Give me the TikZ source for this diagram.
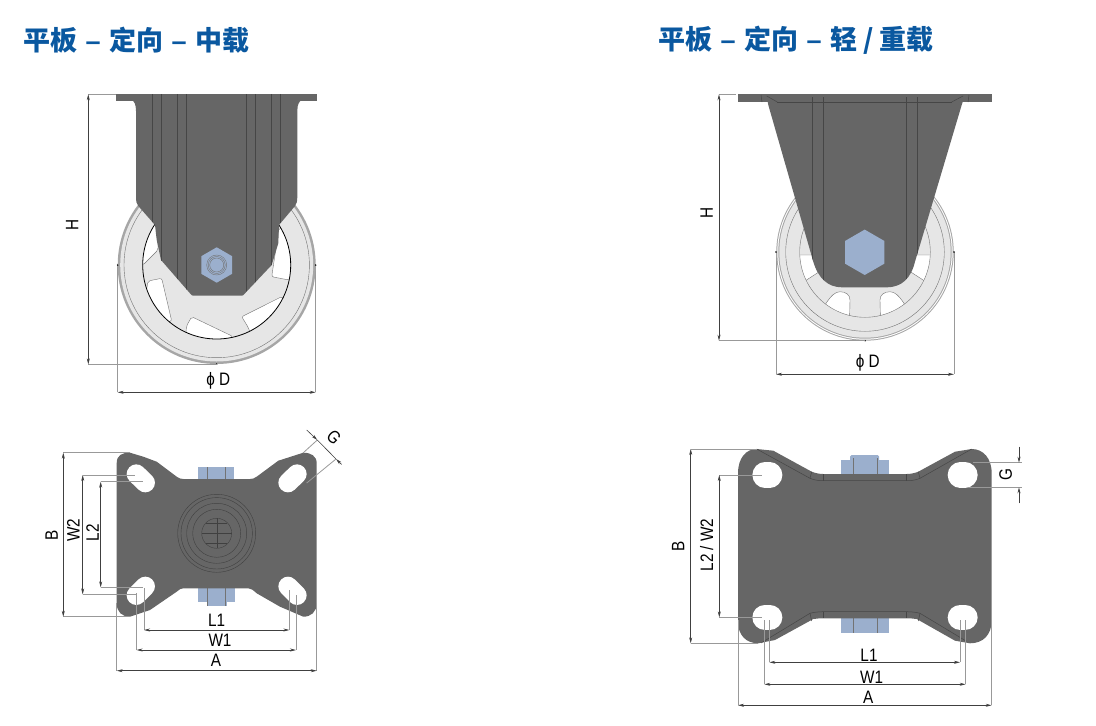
\documentclass[tikz,border=0pt]{standalone}
\usepackage{fontspec}
\setmainfont{Liberation Sans}
\newfontfamily\cjk{Noto Sans CJK SC}
\newfontfamily\dimfont[FakeStretch=0.85]{Liberation Sans}
\usetikzlibrary{arrows.meta,shapes.geometric}
\definecolor{titleblue}{RGB}{10,88,160}
\definecolor{steel}{RGB}{102,102,102}
\definecolor{steelline}{RGB}{70,70,70}
\definecolor{nutblue}{RGB}{155,175,205}
\definecolor{tyre}{RGB}{230,230,230}
\newcommand{\titlesep}{\hspace{8.5pt}{\rmfamily\bfseries –}\hspace{8.5pt}}
\tikzset{
	titletext/.style={anchor=west,inner sep=0,text=titleblue,font=\cjk\bfseries\fontsize{27}{27}\selectfont},
	dimtext/.style={inner sep=0,font=\dimfont\fontsize{18}{18}\selectfont},
	dimline/.style={line width=.6pt,black!75,{Stealth[length=6pt,width=3pt]}-{Stealth[length=6pt,width=3pt]}},
	witness/.style={line width=.8pt,black!40},
	edge/.style={line width=.5pt,steelline},
	thinline/.style={line width=.4pt,draw=black!55},
	nut/.style={regular polygon,regular polygon sides=6,shape border rotate=30,inner sep=0,fill=nutblue}
}
\begin{document}
\begin{tikzpicture}[x=1pt,y=-1pt]
	\useasboundingbox (0,0) rectangle (1096,726);
	\node[titletext] (titlemedium) at (23,40) {平板\titlesep 定向\titlesep 中载};
	\node[titletext] (titlelight) at (658,40) {平板\titlesep 定向\titlesep 轻 / 重载};

	\draw[witness] (117.7,265) -- (117.7,392.3);
	\draw[witness] (315.7,265) -- (315.7,392.3);
	\fill[black!35] (216.7,265) circle[radius=99];
	\fill[tyre] (216.7,265) circle[radius=96.5];
	\draw[thinline] (216.7,265) circle[radius=92.7];
	\begin{scope}
		\clip (216.7,265) circle[radius=74];
		\foreach \win in {
			{(148,281) -- (161.7,278.3) -- (171.7,321) -- (140,330)},
			{(191.7,316.7) -- (233,336.5) -- (230,350) -- (185,345) -- (186.5,326)},
			{(241.7,316.7) -- (282,296.5) -- (295,310) -- (255,345) -- (248,327)},
			{(279,228) -- (271.7,276.7) -- (289,280) -- (300,270) -- (300,225)},
			{(143,265) -- (158,250) -- (158,222) -- (130,222) -- (130,265)}} {
			\draw[rounded corners=2,thinline,fill=white] \win -- cycle;
		}
	\end{scope}
	\draw[line width=.8pt] (216.7,265) circle[radius=74];
	\foreach \tx/\ty in {117.7/265,315.7/265,216.7/364} {
		\fill (\tx,\ty) circle[radius=.8];
	}

	\begin{scope}
		\path[fill=steel,save path=\bodyA] (131.7,100) .. controls (134,101) and (136,104) .. (136,111) -- (136,196.7) .. controls (136,201) and (136.5,204) .. (138.3,206) -- (155,225) -- (156.7,240) -- (161,260) -- (190,293.3) .. controls (191,294.8) and (192,295.7) .. (193.3,295.7) -- (241.7,295.7) .. controls (243,295.7) and (244,294.8) .. (245,293.3) -- (271.7,265) -- (278.3,243.3) -- (279,225) -- (295,206) .. controls (296.8,204) and (297.3,201) .. (297.3,196.7) -- (297.3,111) .. controls (297.3,104) and (299.5,101) .. (301.7,100) -- cycle;
		\clip[use path=\bodyA];
		\foreach \x in {152.3,161.7,177.7,186,246.7,255,271.7,280.7} {
			\draw[edge] (\x,94.3) -- (\x,300);
		}
	\end{scope}
	\fill[steel] (116,94.3) rectangle (317.3,100.7);
	\foreach \x in {152.3,161.7,177.7,186,246.7,255,271.7,280.7} {
		\draw[edge] (\x,94.3) -- (\x,100.7);
	}
	\node[nut,minimum size=35.4pt] (boltA) at (216.7,265) {};
	\foreach \r in {7,8.5,10} {
		\draw[thinline] (boltA.center) circle[radius=\r];
	}

	\draw[witness] (88.3,94.3) -- (116,94.3);
	\draw[witness] (88.3,364.3) -- (216.7,364.3);
	\draw[dimline] (88.3,94.3) -- (88.3,364.3);
	\draw[dimline] (117.7,392.3) -- (315.7,392.3);
	\node[dimtext,rotate=90] (heightA) at (72.3,225) {H};
	\node[dimtext] (diamA) at (218.3,381) {ϕ D};

	\fill[nutblue] (198.3,467.3) rectangle (234,485);
	\fill[nutblue] (197.7,585) rectangle (235,602.3);
	\fill[nutblue] (206.7,600) rectangle (226.7,606);
	\foreach \x in {207.3,225} {
		\draw[thinline] (\x,467.3) -- (\x,480);
		\draw[thinline] (\x,588) -- (\x,606);
	}
	\fill[steel] (116.7,463.3) .. controls (116.7,455) and (122,452.7) .. (130,452.7) -- (143.3,456.7) -- (156.7,461.7) -- (176.7,476.7) .. controls (179,478.4) and (181,479) .. (183.3,479) -- (250,479) .. controls (252.3,479) and (254.4,478.4) .. (256.7,476.7) -- (278.3,460.7) -- (303.3,452.7) .. controls (311,452.7) and (316.7,456) .. (316.7,463.3) -- (316.7,603.3) .. controls (316.7,612) and (311,616.7) .. (303.3,616.7) -- (280,606.7) -- (256.7,593.3) .. controls (253,590) and (251,588.3) .. (248.3,588.3) -- (183.3,588.3) .. controls (181,588.3) and (179,589.5) .. (176.7,591.7) -- (150,610) -- (130,616.7) .. controls (122,616.7) and (116.7,612) .. (116.7,603.3) -- cycle;
	\foreach \ax/\ay/\bx/\by in {136.3/474/145.3/482.7,288/482.7/297/474,145.3/586.3/136.3/595.3,288/586.3/297/595.3} {
		\draw[white,line width=19.3pt,line cap=round] (\ax,\ay) -- (\bx,\by);
	}
	\foreach \r in {15,24,30,35.7,39} {
		\draw[line width=.4pt,black!75] (216.7,533.3) circle[radius=\r];
	}
	\draw[line width=.4pt,black!75] (201.7,533.3) -- (231.7,533.3);
	\draw[line width=.4pt,black!75] (216.7,518.3) -- (216.7,548.3);
	\draw[line width=.4pt,black!75] (206,523.5) -- (227.4,523.5);
	\draw[line width=.4pt,black!75] (206,543.1) -- (227.4,543.1);

	\draw[witness] (63.3,452.7) -- (130,452.7);
	\draw[witness] (63.3,616.7) -- (130,616.7);
	\draw[witness] (82.7,475) -- (135,475);
	\draw[witness] (82.7,594.3) -- (136.7,594.3);
	\draw[witness] (100.7,481.7) -- (143.3,481.7);
	\draw[witness] (100.7,587.3) -- (143.3,587.3);
	\draw[witness] (144,588.3) -- (144,630);
	\draw[witness] (289.3,590) -- (289.3,630);
	\draw[witness] (136.7,593) -- (136.7,650);
	\draw[witness] (296,595) -- (296,650);
	\draw[witness] (116.7,603) -- (116.7,670.7);
	\draw[witness] (316.7,603) -- (316.7,670.7);
	\draw[witness] (303,453) -- (317.3,440);
	\draw[witness] (306.7,483) -- (336,459);
	\draw[dimline] (63.3,452.7) -- (63.3,616.7);
	\draw[dimline] (82.7,475) -- (82.7,594.3);
	\draw[dimline] (100.7,481.7) -- (100.7,587.3);
	\draw[dimline] (144,630) -- (289.3,630);
	\draw[dimline] (136.7,650) -- (296,650);
	\draw[dimline] (116.7,670.7) -- (316.7,670.7);
	\draw[dimline,-{Stealth[length=6pt,width=3pt]}] (306.7,430) -- (317.3,440);
	\draw[dimline,-{Stealth[length=6pt,width=3pt]}] (341.7,464.5) -- (336,459);
	\draw[line width=.6pt,black!75] (317.3,440) -- (336,459);
	\node[dimtext,rotate=90] (depthA) at (51.7,535) {B};
	\node[dimtext,rotate=90] (wtwoA) at (73.3,530) {W2};
	\node[dimtext,rotate=90] (ltwoA) at (92.7,532.7) {L2};
	\node[dimtext] (loneA) at (216.7,620) {L1};
	\node[dimtext] (woneA) at (220,640) {W1};
	\node[dimtext] (widthA) at (216,660.7) {A};
	\node[dimtext,rotate=-45] (gapA) at (334,437) {G};

	\draw[witness] (776,252) -- (776,374.3);
	\draw[witness] (954,252) -- (954,374.3);
	\fill[black!35] (865,252) circle[radius=88.7];
	\fill[white] (865,252) circle[radius=87.7];
	\fill[black!35] (865,252) circle[radius=86.7];
	\fill[tyre] (865,252) circle[radius=85.7];
	\draw[thinline] (865,252) circle[radius=79.3];
	\begin{scope}
		\clip (865,252) circle[radius=65.3];
		\draw[thinline,fill=white] (826,303.3) .. controls (831,296) and (835,291.7) .. (840,291.7) .. controls (846,291.7) and (850,295) .. (850,300) -- (849.3,330) -- (815,330) -- cycle;
		\draw[thinline,fill=white] (904,303.3) .. controls (899,296) and (895,291.7) .. (890,291.7) .. controls (884,291.7) and (880,295) .. (880,300) -- (880.7,330) -- (915,330) -- cycle;
		\draw[thinline,fill=white] (790,255) -- (815,255) -- (825,268) -- (805,281) -- (790,290) -- cycle;
		\draw[thinline,fill=white] (939.6,255) -- (914.6,255) -- (904.6,268) -- (924.6,281) -- (939.6,290) -- cycle;
	\end{scope}
	\draw[thinline] (865,252) circle[radius=65.3];
	\foreach \tx/\ty in {776/252,954/252,865/340.7} {
		\fill (\tx,\ty) circle[radius=.8];
	}

	\begin{scope}
		\path[fill=steel,save path=\bodyB] (767.3,100) -- (768.3,105) -- (813.3,261.7) .. controls (818,278) and (828,287.3) .. (841.7,287.3) -- (886.7,287.3) .. controls (902,287.3) and (911,278) .. (915,261.7) -- (961.7,105) -- (963.3,100) -- cycle;
		\clip[use path=\bodyB];
		\foreach \x in {812.3,823.3,906.7,917.7} {
			\draw[edge] (\x,97) -- (\x,300);
		}
	\end{scope}
	\fill[steel] (737.7,94.3) rectangle (992,102);
	\foreach \x in {812.3,823.3,906.7,917.7} {
		\draw[edge] (\x,97) -- (\x,102);
	}
	\draw[edge] (777.3,102) -- (951.7,102);
	\draw[edge] (766.7,96) -- (777.3,102);
	\draw[edge] (963,96) -- (951.7,102);
	\draw[edge] (761,95) -- (762,102);
	\draw[edge] (969,95) -- (968,102);
	\node[nut,minimum size=45.4pt] (boltB) at (864.7,252.3) {};

	\draw[witness] (719,94.3) -- (735.7,94.3);
	\draw[witness] (719,340.7) -- (865,340.7);
	\draw[dimline] (719,94.3) -- (719,340.7);
	\draw[dimline] (776,374.3) -- (954,374.3);
	\node[dimtext,rotate=90] (heightB) at (706.7,213.3) {H};
	\node[dimtext] (diamB) at (867.7,362.7) {ϕ D};

	\fill[nutblue] (841.3,460) rectangle (888.7,480);
	\fill[nutblue,rounded corners=1.5] (850,455) rectangle (879,462);
	\fill[nutblue] (841.3,610) rectangle (888.7,633);
	\foreach \x in {853.3,876.7} {
		\draw[thinline] (\x,458) -- (\x,474);
		\draw[thinline] (\x,618) -- (\x,633);
	}
	\fill[steel] (738,473.3) .. controls (738,458) and (746,449) .. (756.7,449) -- (773.3,450.7) -- (811.7,471.7) .. controls (815,473) and (819,474) .. (823.3,474) -- (906.7,474) .. controls (911,474) and (915,473) .. (918.3,471.7) -- (955,451.7) -- (971.7,449) .. controls (983,449) and (991.7,458) .. (991.7,473.3) -- (991.7,620) .. controls (991.7,635) and (983,643.3) .. (970,643.3) -- (955,640.7) -- (916.7,619) .. controls (913,618.5) and (910,618.3) .. (906.7,618.3) -- (823.3,618.3) .. controls (820,618.3) and (817,618.5) .. (813.3,619) -- (775,640) -- (758.3,643.3) .. controls (746,643.3) and (738,635) .. (738,621.7) -- cycle;
	\foreach \cx/\cy in {765/475,960.3/475,765/617.3,960.3/617.3} {
		\draw[white,line width=25.3pt,line cap=round] (\cx,\cy) -- ++(4.7,0);
	}
	\draw[edge] (756.7,449) -- (810,478.3) .. controls (814,480) and (818,480.7) .. (823.3,480.7) -- (906.7,480.7) .. controls (912,480.7) and (916,480) .. (920,478.3) -- (971.7,449);
	\draw[edge] (761,643) -- (810,613.3) .. controls (814,612.3) and (818,611.7) .. (823.3,611.7) -- (906.7,611.7) .. controls (912,611.7) and (916,612.3) .. (920,613.3) -- (966,641);
	\foreach \x in {823.3,906.7} {
		\draw[edge] (\x,474) -- (\x,480.7);
		\draw[edge] (\x,611.7) -- (\x,618.3);
	}
	\draw[edge] (811.7,471.7) -- (810,478.3);
	\draw[edge] (918.3,471.7) -- (920,478.3);
	\draw[edge] (810,613.3) -- (811.7,621);
	\draw[edge] (920,613.3) -- (918.3,621);

	\draw[witness] (690.7,449) -- (756.7,449);
	\draw[witness] (690.7,643.3) -- (758,643.3);
	\draw[witness] (719.3,475) -- (761.7,475);
	\draw[witness] (719.3,617.3) -- (761.7,617.3);
	\draw[witness] (769.3,620) -- (769.3,662.3);
	\draw[witness] (960,620) -- (960,662.3);
	\draw[witness] (764.3,620) -- (764.3,684.3);
	\draw[witness] (965.7,620) -- (965.7,684.3);
	\draw[witness] (738,620) -- (738,705.3);
	\draw[witness] (991.7,620) -- (991.7,705.3);
	\draw[witness] (973.3,462.7) -- (1022.3,462.7);
	\draw[witness] (968.3,487.3) -- (1022.3,487.3);
	\draw[dimline] (690.7,449) -- (690.7,643.3);
	\draw[dimline] (719.3,475) -- (719.3,617.3);
	\draw[dimline] (769.3,662.3) -- (960,662.3);
	\draw[dimline] (764.3,684.3) -- (965.7,684.3);
	\draw[dimline] (738,705.3) -- (991.7,705.3);
	\draw[dimline,-{Stealth[length=6pt,width=3pt]}] (1019,446.7) -- (1019,462.7);
	\draw[dimline,-{Stealth[length=6pt,width=3pt]}] (1019,503.3) -- (1019,487.3);
	\node[dimtext,rotate=90] (depthB) at (678.3,546.7) {B};
	\node[dimtext,rotate=90] (ltwoB) at (706.7,545) {L2 / W2};
	\node[dimtext] (loneB) at (869,655.7) {L1};
	\node[dimtext] (woneB) at (871.7,677.3) {W1};
	\node[dimtext] (widthB) at (868.3,697.7) {A};
	\node[dimtext,rotate=90] (gapB) at (1005.7,475) {G};
\end{tikzpicture}
\end{document}
